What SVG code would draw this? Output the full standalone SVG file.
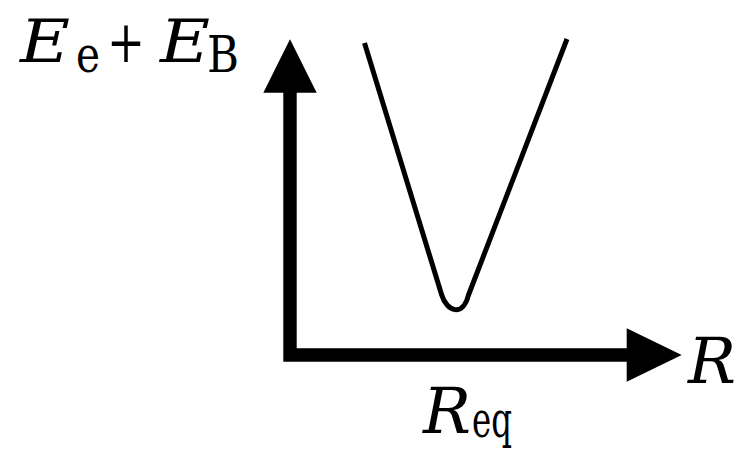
<svg xmlns="http://www.w3.org/2000/svg" width="739" height="452" viewBox="0 0 739 452">
<style>
.axis{stroke:#000;stroke-width:13.4;fill:none;stroke-linecap:butt}
.curve{stroke:#000;stroke-width:5;fill:none;stroke-linejoin:round}
text{font-family:"DejaVu Serif",serif;fill:#000}
.i{font-style:italic}
</style>
<rect width="739" height="452" fill="#fff"/>
<g id="connectors">
<path class="axis" d="M290,92 L290,361.7 M283.3,355 L628,355"/>
<polygon points="290,39.3 263.3,92.7 316.7,92.7" fill="#000"/>
<polygon points="681.7,355 626.7,328.3 626.7,381.7" fill="#000"/>
</g>
<g id="curve">
<path class="curve" d="M364.5,43 L441.7,295 C447,312 463,317 468.5,295 L567,39"/>
</g>
<g id="label-y">
<text class="i" x="20" y="62" font-size="60" textLength="50" lengthAdjust="spacingAndGlyphs">E</text>
<text x="76" y="72" font-size="50" textLength="24" lengthAdjust="spacingAndGlyphs">e</text>
<text x="107" y="62" font-size="58" textLength="38" lengthAdjust="spacingAndGlyphs">+</text>
<text class="i" x="160" y="62" font-size="60" textLength="50" lengthAdjust="spacingAndGlyphs">E</text>
<text x="207" y="72" font-size="50" textLength="32" lengthAdjust="spacingAndGlyphs">B</text>
</g>
<g id="label-x">
<text class="i" x="688" y="383" font-size="63" textLength="48" lengthAdjust="spacingAndGlyphs">R</text>
</g>
<g id="label-req">
<text class="i" x="423" y="433" font-size="63" textLength="48" lengthAdjust="spacingAndGlyphs">R</text>
<text x="472" y="437" font-size="50" textLength="40" lengthAdjust="spacingAndGlyphs">eq</text>
</g>
</svg>
